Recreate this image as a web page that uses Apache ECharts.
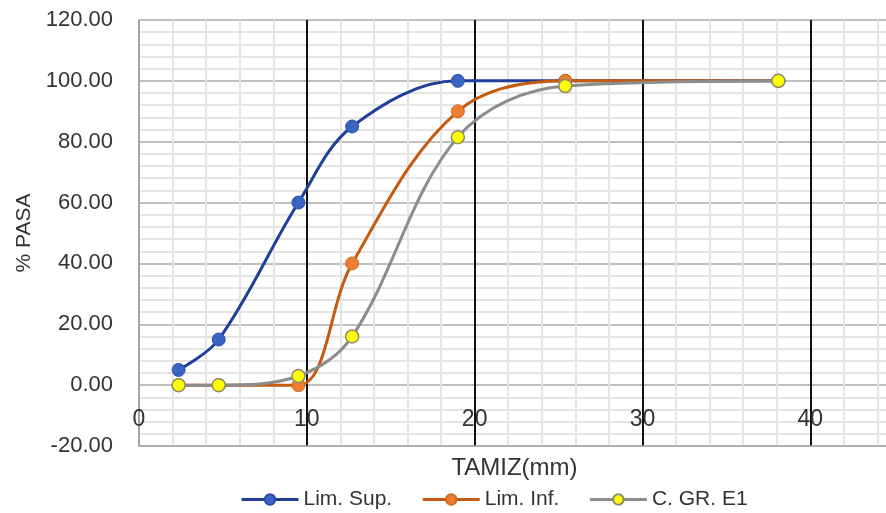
<!DOCTYPE html>
<html><head><meta charset="utf-8">
<script src="https://cdn.jsdelivr.net/npm/echarts@6/dist/echarts.min.js"></script>
<style>html,body{margin:0;padding:0;background:#fff}#c{width:886px;height:513px}</style>
</head><body><div id="c"></div>
<script>
const sieves = [2.36, 4.75, 9.5, 12.7, 19, 25.4, 38.1];
const limSup = [5, 15, 60, 85, 100, 100, 100];
const limInf = [0, 0, 0, 40, 90, 100, 100];
const grE1 = [0, 0, 3, 16, 81.5, 98.3, 100];
const seriesNames = ['Lim. Sup.', 'Lim. Inf.', 'C. GR. E1'];

const pairs = arr => sieves.map((x, i) => [x, arr[i]]);
const font = 'Liberation Sans, Arial, sans-serif';
const chart = echarts.init(document.getElementById('c'));
chart.setOption({
  animation: false,
  grid: {left: 139, right: -4, top: 20, bottom: 67, containLabel: false, outerBoundsMode: 'none'},
  legend: {
    top: 484, left: 235, itemWidth: 57, itemHeight: 13, itemGap: 29,
    lineStyle: {width: 3},
    textStyle: {fontFamily: font, fontSize: 21, color: '#333'},
    data: seriesNames
  },
  xAxis: {
    type: 'value', min: 0, max: 44.75, interval: 10,
    name: 'TAMIZ(mm)', nameLocation: 'middle', nameGap: 10,
    nameTextStyle: {fontFamily: font, fontSize: 24, color: '#333', verticalAlign: 'top'},
    axisLine: {show: true, onZero: false, lineStyle: {color: '#aaa', width: 1.5}},
    axisTick: {show: false},
    axisLabel: {inside: true, margin: 15, fontFamily: font, fontSize: 23, color: '#333',
      formatter: v => (v > 44 ? '' : String(v))},
    splitLine: {show: true, lineStyle: {color: ['#999', '#111', '#111', '#111', '#111', '#111'], width: 2}},
    minorTick: {show: false, splitNumber: 5},
    minorSplitLine: {show: true, lineStyle: {color: '#e4e4e4', width: 2}}
  },
  yAxis: {
    type: 'value', min: -20, max: 120, interval: 20,
    name: '% PASA', nameLocation: 'middle', nameGap: 104,
    nameTextStyle: {fontFamily: font, fontSize: 21, color: '#333'},
    axisLine: {show: true, lineStyle: {color: '#aaa', width: 1.5}},
    axisTick: {show: false},
    axisLabel: {margin: 26, fontFamily: font, fontSize: 22, color: '#333',
      formatter: v => v.toFixed(2)},
    splitLine: {show: true, lineStyle: {color: '#aaa', width: 1.5}},
    minorTick: {show: false, splitNumber: 5},
    minorSplitLine: {show: true, lineStyle: {color: '#e4e4e4', width: 2}}
  },
  series: [
    {name: seriesNames[0], type: 'line', smooth: 0.35, data: pairs(limSup),
     symbol: 'circle', symbolSize: 13,
     lineStyle: {color: '#1f3f99', width: 3},
     itemStyle: {color: '#3a64c4', borderColor: '#2a4fa8', borderWidth: 1}},
    {name: seriesNames[1], type: 'line', smooth: 0.35, data: pairs(limInf),
     symbol: 'circle', symbolSize: 13,
     lineStyle: {color: '#c55a11', width: 3},
     itemStyle: {color: '#ed7d31', borderColor: '#d2691e', borderWidth: 1}},
    {name: seriesNames[2], type: 'line', smooth: 0.35, data: pairs(grE1),
     symbol: 'circle', symbolSize: 13,
     lineStyle: {color: '#8c8c8c', width: 3},
     itemStyle: {color: '#ffff00', borderColor: '#8c8c6a', borderWidth: 1.5}}
  ]
});
</script></body></html>
